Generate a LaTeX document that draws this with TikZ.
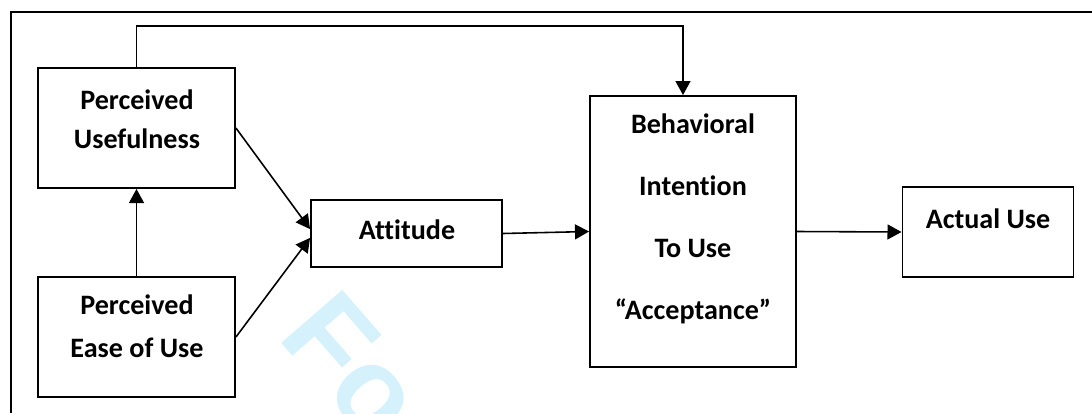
\documentclass[tikz,border=0pt]{standalone}
\usepackage{fontspec}
\setmainfont[Ligatures=NoCommon]{Carlito}
\newfontfamily\markfont{Liberation Sans}
\usetikzlibrary{arrows.meta}

\begin{document}
\begin{tikzpicture}[x=0.02cm,y=-0.02cm,>={Triangle[length=8pt,width=8.5pt]},
  box/.style={draw,line width=1.1pt,inner sep=0pt},
  lbl/.style={font=\bfseries\fontsize{16}{22}\selectfont,align=center,inner sep=0pt},
  link/.style={->,line width=0.9pt}]
  \useasboundingbox (0,0) rectangle (1092,413);
  % watermark
  \node[inner sep=0pt,anchor=base west,rotate=-49,text=cyan!17,
        font=\markfont\bfseries\fontsize{67}{67}\selectfont] (mark) at (276,337) {Fo};
  % frame
  \draw[line width=1.1pt] (11,413) -- (11,12) -- (1092,12);

  % boxes
  \node[box,minimum width=3.94cm,minimum height=2.4cm] (pu) at (136.5,128) {};
  \node[box,minimum width=3.94cm,minimum height=2.4cm] (peu) at (136.5,337) {};
  \node[box,minimum width=3.82cm,minimum height=1.34cm] (att) at (406.5,233.5) {};
  \node[box,minimum width=4.12cm,minimum height=5.42cm] (bi) at (693,231.5) {};
  \node[box,minimum width=3.42cm,minimum height=1.8cm] (au) at (988,232) {};

  % labels
  \node[lbl] (pu-t) at (137,119.5) {Perceived\\Usefulness};
  \node[lbl,font=\bfseries\fontsize{16}{24.4}\selectfont] (peu-t) at (137,326.5) {Perceived\\Ease of Use};
  \node[lbl] (att-t) at (407,230) {Attitude};
  \node[lbl,font=\bfseries\fontsize{16}{35.2}\selectfont] (bi-t) at (693,219)
    {Behavioral\\Intention\\To Use\\“Acceptance”};
  \node[lbl] (au-t) at (988,219) {Actual Use};

  % links
  \coordinate (bend) at (683,26);
  \draw[link] (pu.north) |- (bend) -- (bend |- bi.north);
  \draw[link] (peu.north) -- (pu.south);
  \draw[link] (pu.east) -- ([yshift=2.5pt]att.west);
  \draw[link] (peu.east) -- ([yshift=-2.5pt]att.west);
  \draw[link] (att.east) -- (bi.west);
  \draw[link] (bi.east) -- (au.west);
\end{tikzpicture}
\end{document}
